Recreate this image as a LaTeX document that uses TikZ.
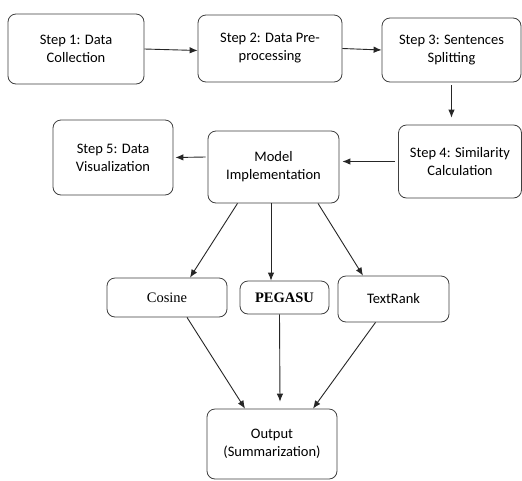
\documentclass[tikz,border=0pt]{standalone}
\usepackage{fontspec}
\setmainfont{Carlito}
\newfontfamily\timesf{Liberation Serif}
\usetikzlibrary{arrows.meta}
\begin{document}
\begin{tikzpicture}[x=1pt,y=-1pt,
  box/.style={draw=black!75,line width=0.8pt,rounded corners=8pt,align=center,
    inner sep=0pt,font=\fontsize{14.5}{18}\selectfont},
  arr/.style={draw=black!85,line width=0.9pt,-{Latex[length=8pt,width=6.5pt]}}]
\useasboundingbox[fill=white] (0,0) rectangle (522,480);
\node[box,minimum width=136pt,minimum height=70pt] (b1) at (76,49) {Step 1: Data\\Collection};
\node[box,minimum width=144pt,minimum height=67pt] (b2) at (270,48.5) {Step 2: Data Pre-\\processing};
\node[box,minimum width=139pt,minimum height=64pt] (b3) at (451.5,50) {Step 3: Sentences\\Splitting};
\node[box,minimum width=123pt,minimum height=73pt] (b4) at (460,161.5) {Step 4: Similarity\\Calculation};
\node[box,minimum width=131pt,minimum height=72pt] (m) at (273.5,167) {Model\\Implementation};
\node[box,minimum width=120pt,minimum height=75pt] (s5) at (113,157.5) {Step 5: Data\\Visualization};
\node[box,minimum width=120pt,minimum height=39pt,font=\timesf\fontsize{14.5}{18}\selectfont] (cos) at (167,297.5) {Cosine};
\node[box,minimum width=89pt,minimum height=33pt,font=\timesf\bfseries\fontsize{14.5}{18}\selectfont] (peg) at (284.5,297.5) {PEGASU};
\node[box,minimum width=111pt,minimum height=46pt] (tr) at (393.5,299) {TextRank};
\node[box,minimum width=130pt,minimum height=70pt] (out) at (272,444) {Output\\(Summarization)};

\draw[arr] (b1.east) -- ([yshift=-2pt]b2.west);
\draw[arr] (b2.east) -- (b3.west);
\draw[arr] ([yshift=-3pt]b3.south) -- ([yshift=7pt]b3.south |- b4.north);
\draw[arr] ([xshift=-3pt]b4.west) -- ([xshift=3pt]b4.west -| m.east);
\draw[arr] ([xshift=-2pt,yshift=10pt]m.west) -- ([xshift=2pt]s5.east);
\draw[arr] ([xshift=-36pt]m.south) -- ([xshift=23pt]cos.north);
\draw[arr] ([xshift=-2.5pt]m.south) -- ([xshift=-13.5pt]peg.north);
\draw[arr] ([xshift=44.5pt]m.south) -- ([xshift=-30.5pt]tr.north);
\draw[arr] ([xshift=20pt]cos.south) -- ([xshift=-27pt]out.north);
\draw[arr] ([xshift=-5pt]peg.south) -- ([xshift=8pt,yshift=7pt]out.north);
\draw[arr] ([xshift=-18pt]tr.south) -- ([xshift=41pt]out.north);
\end{tikzpicture}
\end{document}
